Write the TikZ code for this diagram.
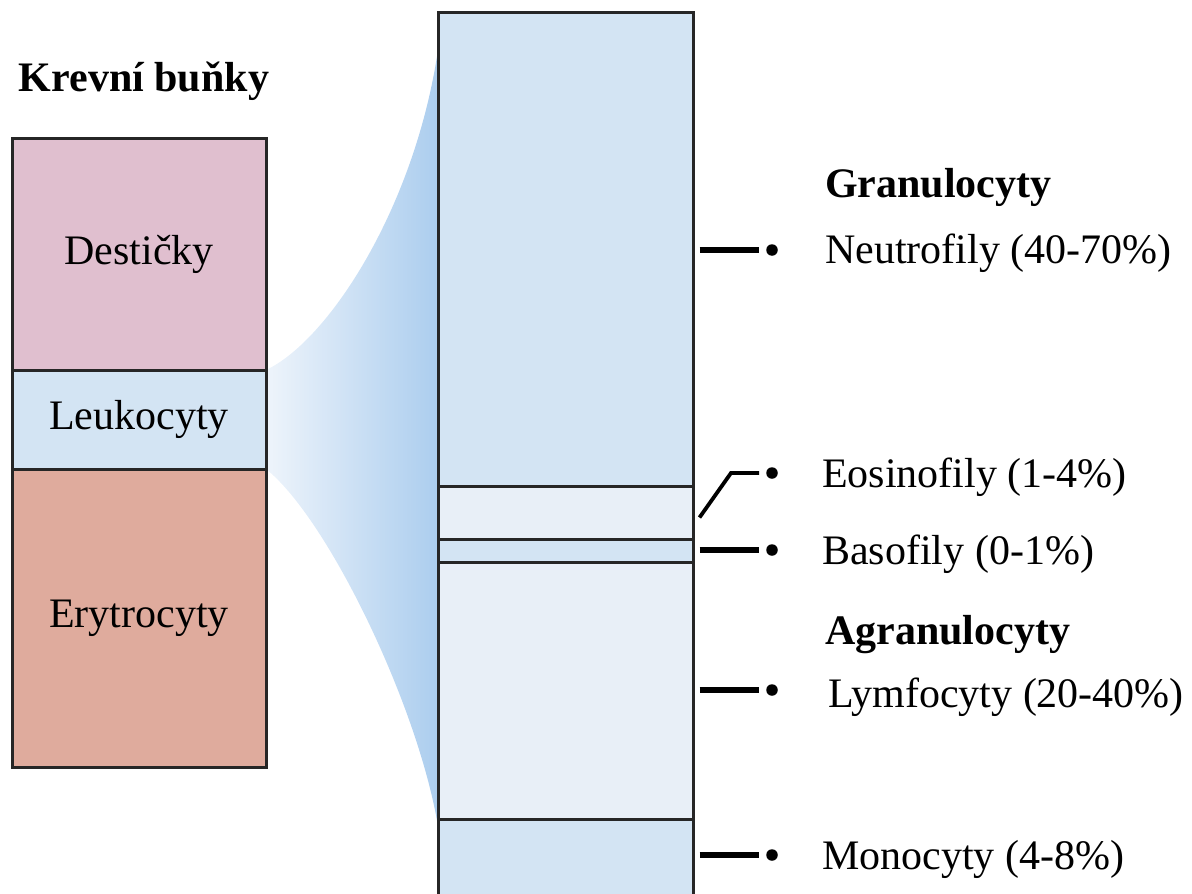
\documentclass[tikz,border=0pt]{standalone}
\usepackage{fontspec}
\setmainfont{Liberation Serif}
\definecolor{plt}{HTML}{E0BFCF}
\definecolor{leu}{HTML}{D3E4F3}
\definecolor{ery}{HTML}{DFAB9D}
\definecolor{pale}{HTML}{E8EFF7}
\definecolor{fundark}{HTML}{ABCDEE}
\definecolor{funlight}{HTML}{EEF4FB}
\begin{document}
\begin{tikzpicture}[x=1pt,y=-1pt,
  txt/.style={inner sep=0pt, font=\fontsize{42}{50}\selectfont},
  head/.style={txt, font=\fontsize{42}{50}\selectfont\bfseries},
  cellbox/.style={draw=black!85, line width=3pt, inner sep=0pt, font=\fontsize{42}{50}\selectfont},
  conn/.style={line width=5.2pt, black},
  dot/.style={circle, fill=black, inner sep=0pt, minimum size=11.5pt}]
\useasboundingbox (0,0) rectangle (1192,894);
% funnel
\shade[left color=funlight, right color=fundark]
  (266,370) .. controls (330,340) and (420,200) .. (440,35)
  -- (440,840) .. controls (425,720) and (330,520) .. (266,469) -- cycle;
% left column
\node[head, anchor=base] (title) at (144,91) {Krevní buňky};
\node[cellbox, fill=plt, minimum width=254pt, minimum height=232pt] (dest) at (139,254) {Destičky};
\node[cellbox, fill=leu, minimum width=254pt, minimum height=99pt] (leuk) at (139,419.5) {Leukocyty};
\node[cellbox, fill=ery, minimum width=254pt, minimum height=298pt] (ery) at (139,618) {Erytrocyty};
% right column
\node[cellbox, fill=leu, minimum width=255pt, minimum height=474pt] (neut) at (565.5,249) {};
\node[cellbox, fill=pale, minimum width=255pt, minimum height=53pt] (eos) at (565.5,512.5) {};
\node[cellbox, fill=leu, minimum width=255pt, minimum height=23pt] (baso) at (565.5,550.5) {};
\node[cellbox, fill=pale, minimum width=255pt, minimum height=257pt] (lymph) at (565.5,690.5) {};
\node[cellbox, fill=leu, minimum width=255pt, minimum height=100pt] (mono) at (565.5,869) {};
% dots
\node[dot] (dneut) at (772,250) {};
\node[dot] (deos) at (772,473) {};
\node[dot] (dbaso) at (772,550) {};
\node[dot] (dlymph) at (772,690) {};
\node[dot] (dmono) at (772,855) {};
\coordinate (ebend) at (731,473);
% connectors
\draw[conn] ([xshift=5pt]neut.east |- dneut) -- ([xshift=-13pt]dneut.center);
\draw[conn, line width=3.8pt] ([xshift=5pt,yshift=-5pt]eos.east) -- (ebend) -- ([xshift=-13pt]deos.center);
\draw[conn] ([xshift=5pt]baso.east |- dbaso) -- ([xshift=-13pt]dbaso.center);
\draw[conn] ([xshift=5pt]lymph.east |- dlymph) -- ([xshift=-13pt]dlymph.center);
\draw[conn] ([xshift=5pt]mono.east |- dmono) -- ([xshift=-13pt]dmono.center);
% labels
\node[head, anchor=base west] (granl) at (825,197) {Granulocyty};
\node[txt, anchor=base west] (neutl) at (825,263) {Neutrofily (40-70\%)};
\node[txt, anchor=base west] (eosl) at (822,487) {Eosinofily (1-4\%)};
\node[txt, anchor=base west] (basol) at (822,564) {Basofily (0-1\%)};
\node[head, anchor=base west] (agranl) at (825,644) {Agranulocyty};
\node[txt, anchor=base west] (lymphl) at (828,707) {Lymfocyty (20-40\%)};
\node[txt, anchor=base west] (monol) at (822,869) {Monocyty (4-8\%)};
\end{tikzpicture}
\end{document}
